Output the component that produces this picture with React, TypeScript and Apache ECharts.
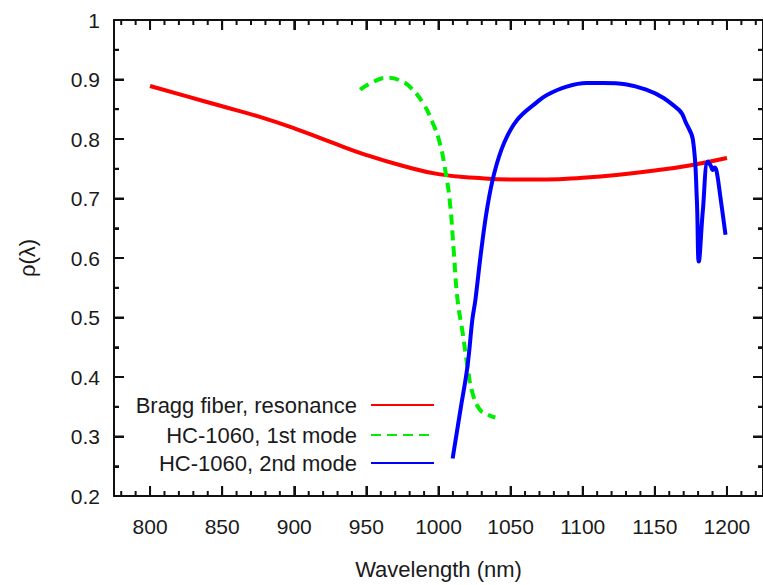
import React, { useEffect, useRef } from "react";
import * as echarts from "echarts";

// ---- data ----
const braggX = [800, 825, 850, 875, 900, 925, 950, 975, 1000, 1025, 1050, 1075, 1100, 1125, 1150, 1175, 1200];
const braggY = [0.889, 0.872, 0.855, 0.838, 0.818, 0.795, 0.773, 0.755, 0.741, 0.735, 0.732, 0.732, 0.735, 0.740, 0.747, 0.756, 0.768];

const mode1X = [945.7, 954.7, 965.0, 975.3, 980.9, 989.1, 996.0, 1000.8, 1004.3, 1007.7, 1010.5, 1013.2, 1016.7, 1020.1, 1023.5, 1028.4, 1033.9, 1039.4];
const mode1Y = [0.883, 0.896, 0.903, 0.896, 0.886, 0.861, 0.827, 0.794, 0.753, 0.698, 0.614, 0.530, 0.475, 0.418, 0.374, 0.346, 0.337, 0.332];

const mode2X = [1009.8, 1015.3, 1020.1, 1023.5, 1025.6, 1029.7, 1033.9, 1038.7, 1045.6, 1054.5, 1068.3, 1075.2, 1088.9, 1102.7, 1114.4, 1144.0, 1166.7, 1171.6, 1176.4, 1179.1, 1180.5, 1183.3, 1186.7, 1188.8, 1190.1, 1191.5, 1192.9, 1195.6, 1199.0];
const mode2Y = [0.263, 0.346, 0.418, 0.497, 0.530, 0.614, 0.686, 0.743, 0.794, 0.832, 0.862, 0.874, 0.888, 0.894, 0.894, 0.883, 0.849, 0.827, 0.799, 0.700, 0.594, 0.680, 0.762, 0.755, 0.748, 0.752, 0.745, 0.700, 0.639];

const seriesNames = ["Bragg fiber, resonance", "HC-1060, 1st mode", "HC-1060, 2nd mode"];
const xMajorTicks = [800, 850, 900, 950, 1000, 1050, 1100, 1150, 1200];
const yMajorTicks = [0.2, 0.3, 0.4, 0.5, 0.6, 0.7, 0.8, 0.9, 1];
const xMin = 775;
const xMax = 1225;
const yMin = 0.2;
const yMax = 1;

const FONT = "Liberation Sans, Arial, sans-serif";
const TXT = "#1a1a1a";
const INK = "#111111";

export default function App() {
  const ref = useRef<HTMLDivElement>(null);
  useEffect(() => {
    if (!ref.current) return;
    const chart = echarts.init(ref.current, undefined, { renderer: "svg" });

    const xMinor: number[] = [];
    for (let v = 780; v <= 1220; v += 10) if (v % 50 !== 0) xMinor.push(v);
    const yMinor = yMajorTicks.slice(0, -1).map((v) => Math.round((v + 0.05) * 100) / 100);

    const xTickData = [...xMajorTicks.map((v) => [v, yMin, 10]), ...xMinor.map((v) => [v, yMin, 5])];
    const yTickData = [...yMajorTicks.map((v) => [xMin, v, 10]), ...yMinor.map((v) => [xMin, v, 5])];

    const zip = (xs: number[], ys: number[]) => xs.map((x, i) => [x, ys[i]]);

    const tickSeries = (name: string, data: number[][], side: "b" | "t" | "l" | "r") => ({
      name,
      type: "custom",
      clip: false,
      z: 6,
      data,
      encode: { x: 0, y: 1 },
      renderItem: (_p: any, api: any) => {
        const len = api.value(2);
        if (side === "b" || side === "t") {
          const p = api.coord([api.value(0), side === "b" ? yMin : yMax]);
          const y0 = side === "b" ? p[1] - len : p[1];
          return { type: "rect", shape: { x: p[0] - 1, y: y0, width: 2, height: len }, style: { fill: INK } };
        }
        const p = api.coord([side === "l" ? xMin : xMax, api.value(1)]);
        const x0 = side === "l" ? p[0] : p[0] - len;
        return { type: "rect", shape: { x: x0, y: p[1] - 1, width: len, height: 2 }, style: { fill: INK } };
      },
    });

    const legendBase = () => ({
      orient: "horizontal",
      right: 328,
      padding: 0,
      itemWidth: 63,
      itemHeight: 14,
      selectedMode: false,
      align: "right",
      itemStyle: { color: "rgba(0,0,0,0)", borderColor: "rgba(0,0,0,0)", borderWidth: 0 },
      textStyle: { fontFamily: FONT, fontSize: 22, color: TXT, padding: [0, 9, 0, 0] },
    });

    const lineAx = () => ({ show: true, lineStyle: { color: INK, width: 2 } });
    const tickLS = () => ({ color: INK, width: 2 });

    chart.setOption({
      animation: false,
      backgroundColor: "#fff",
      grid: { left: 114, right: -4, top: 20, bottom: 88 },
      legend: [
        { ...legendBase(), top: 394, data: [seriesNames[0]] },
        { ...legendBase(), top: 424, data: [seriesNames[1]] },
        { ...legendBase(), top: 452, data: [seriesNames[2]] },
      ],
      xAxis: [
        {
          type: "value",
          min: xMin,
          max: xMax,
          position: "bottom",
          splitLine: { show: false },
          axisLine: lineAx(),
          axisTick: { show: true, inside: true, length: 10, customValues: xMajorTicks, lineStyle: tickLS() },
          axisLabel: {
            show: true,
            customValues: xMajorTicks,
            margin: 20,
            fontFamily: FONT,
            fontSize: 21,
            color: TXT,
            formatter: (v: number) => String(v),
          },
          name: "Wavelength (nm)",
          nameLocation: "middle",
          nameGap: 62,
          nameTextStyle: { fontFamily: FONT, fontSize: 22, color: TXT },
        },
        {
          type: "value",
          min: xMin,
          max: xMax,
          position: "top",
          splitLine: { show: false },
          axisLine: lineAx(),
          axisTick: { show: true, inside: true, length: 10, customValues: xMajorTicks, lineStyle: tickLS() },
          axisLabel: { show: false },
        },
      ],
      yAxis: [
        {
          type: "value",
          position: "left",
          min: yMin,
          max: yMax,
          interval: 0.1,
          splitLine: { show: false },
          axisLine: lineAx(),
          axisTick: { show: true, inside: true, length: 10, lineStyle: tickLS() },
          minorTick: { show: true, splitNumber: 2, length: 5, lineStyle: tickLS() },
          axisLabel: { margin: 14, fontFamily: FONT, fontSize: 21, color: TXT },
          name: "ρ(λ)",
          nameLocation: "middle",
          nameGap: 76,
          nameRotate: 90,
          nameTextStyle: { fontFamily: FONT, fontSize: 22, color: TXT },
        },
        {
          type: "value",
          position: "right",
          min: yMin,
          max: yMax,
          interval: 0.1,
          splitLine: { show: false },
          axisLine: lineAx(),
          axisTick: { show: true, inside: true, length: 10, lineStyle: tickLS() },
          minorTick: { show: true, splitNumber: 2, length: 5, lineStyle: tickLS() },
          axisLabel: { show: false },
        },
      ],
      series: [
        tickSeries("_xb", xTickData, "b"),
        tickSeries("_xt", xTickData, "t"),
        tickSeries("_yl", yTickData, "l"),
        tickSeries("_yr", yTickData, "r"),
        {
          name: seriesNames[0],
          type: "line",
          xAxisIndex: 0,
          yAxisIndex: 0,
          data: zip(braggX, braggY),
          symbol: "none",
          smooth: 0.5,
          z: 2,
          lineStyle: { color: "#ff0000", width: 4 },
          itemStyle: { color: "#ff0000" },
        },
        {
          name: seriesNames[1],
          type: "line",
          xAxisIndex: 0,
          yAxisIndex: 0,
          data: zip(mode1X, mode1Y),
          symbol: "none",
          smooth: 0.5,
          z: 3,
          lineStyle: { color: "#00ee00", width: 4, type: [10, 6], cap: "butt" },
          itemStyle: { color: "#00ee00" },
        },
        {
          name: seriesNames[2],
          type: "line",
          xAxisIndex: 0,
          yAxisIndex: 0,
          data: zip(mode2X, mode2Y),
          symbol: "none",
          smooth: 0.4,
          z: 4,
          lineStyle: { color: "#0000ff", width: 4 },
          itemStyle: { color: "#0000ff" },
        },
      ],
    });
    return () => chart.dispose();
  }, []);

  return (
    <div
      ref={ref}
      style={{ position: "fixed", left: 0, top: 0, width: 763, height: 585, background: "#fff" }}
    />
  );
}
